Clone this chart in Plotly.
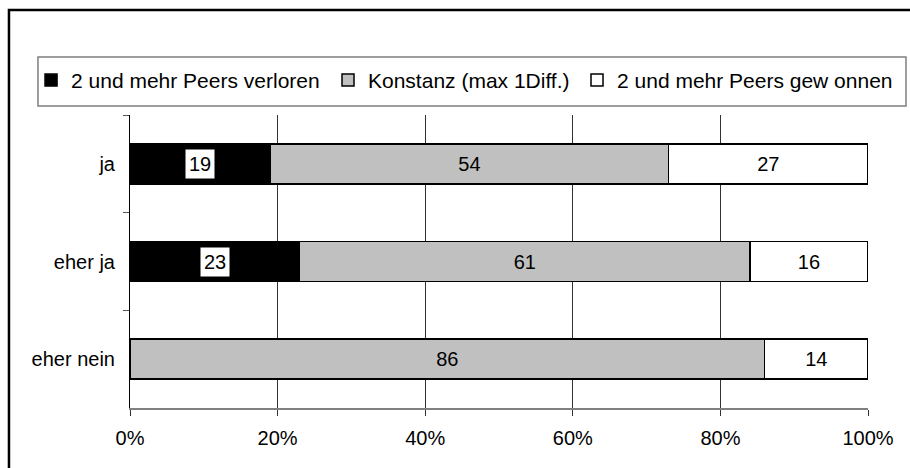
import plotly.graph_objects as go

categories = ["ja", "eher ja", "eher nein"]
verloren = [19, 23, 0]
konstanz = [54, 61, 86]
gewonnen = [27, 16, 14]
series_names = ["2 und mehr Peers verloren", "Konstanz (max 1Diff.)", "2 und mehr Peers gew onnen"]
x_ticks = [0, 20, 40, 60, 80, 100]
x_tick_labels = ["0%", "20%", "40%", "60%", "80%", "100%"]

FONT = "Liberation Sans, Arial, sans-serif"
fig = go.Figure()

fills = ["#000000", "#C0C0C0", "#FFFFFF"]
legend_ids = ["legend", "legend2", "legend3"]
for name, vals, fill, lg in zip(series_names, [verloren, konstanz, gewonnen], fills, legend_ids):
    show_text = fill != "#000000"
    fig.add_trace(go.Bar(
        y=categories, x=vals, name=name, orientation="h", legend=lg,
        marker=dict(color=fill, line=dict(color="#000000", width=1.5)),
        width=0.41,
        text=[str(v) if (v > 0 and show_text) else "" for v in vals],
        textposition="inside", insidetextanchor="middle",
        textfont=dict(color="#000000", size=20, family=FONT),
        constraintext="none", textangle=0,
        hoverinfo="skip",
    ))

annotations = []
for cat, v in zip(categories, verloren):
    if v > 0:
        annotations.append(dict(
            x=v / 2, y=cat, xref="x", yref="y", text=str(v), showarrow=False,
            font=dict(color="#000000", size=20, family=FONT),
            bgcolor="#FFFFFF", borderpad=3,
        ))

shapes = [
    # outer frame
    dict(type="rect", xref="paper", yref="paper", x0=-0.164, x1=1.2, y0=-0.4, y1=1.358,
         line=dict(color="#000000", width=2.5), fillcolor="rgba(0,0,0,0)", layer="below"),
    # legend box
    dict(type="rect", xref="paper", yref="paper", x0=-0.1247, x1=1.0515, y0=1.0307, y1=1.198,
         line=dict(color="#7f7f7f", width=1.5), fillcolor="rgba(0,0,0,0)", layer="below"),
]

def leg(x):
    return dict(orientation="h", x=x, xanchor="left", y=1.118, yanchor="middle",
                font=dict(size=21, family=FONT), bgcolor="rgba(0,0,0,0)",
                borderwidth=0, itemclick=False, itemdoubleclick=False)

fig.update_layout(
    width=910, height=468,
    margin=dict(l=130, r=42, t=115, b=60, autoexpand=False),
    paper_bgcolor="#FFFFFF", plot_bgcolor="#FFFFFF",
    barmode="stack",
    font=dict(family=FONT, size=20, color="#000000"),
    showlegend=True,
    legend=leg(-0.1341), legend2=leg(0.2683), legend3=leg(0.6057),
    xaxis=dict(range=[0, 100], tickvals=x_ticks, ticktext=x_tick_labels,
               showgrid=True, gridcolor="#333333", gridwidth=1,
               showline=True, linecolor="#808080", linewidth=1.5,
               ticks="outside", ticklen=6, tickcolor="#333333", ticklabelstandoff=5,
               tickfont=dict(size=20), zeroline=False, fixedrange=True),
    yaxis=dict(categoryorder="array", categoryarray=categories, autorange="reversed",
               showline=True, linecolor="#000000", linewidth=1,
               ticks="outside", ticklen=6, tickcolor="#555555", tickson="boundaries",
               ticklabelstandoff=10,
               tickfont=dict(size=20), showgrid=False, fixedrange=True),
    annotations=annotations, shapes=shapes,
)

fig.write_html("out.html", config={"displayModeBar": False},
               post_script="document.body.style.margin='0';")
